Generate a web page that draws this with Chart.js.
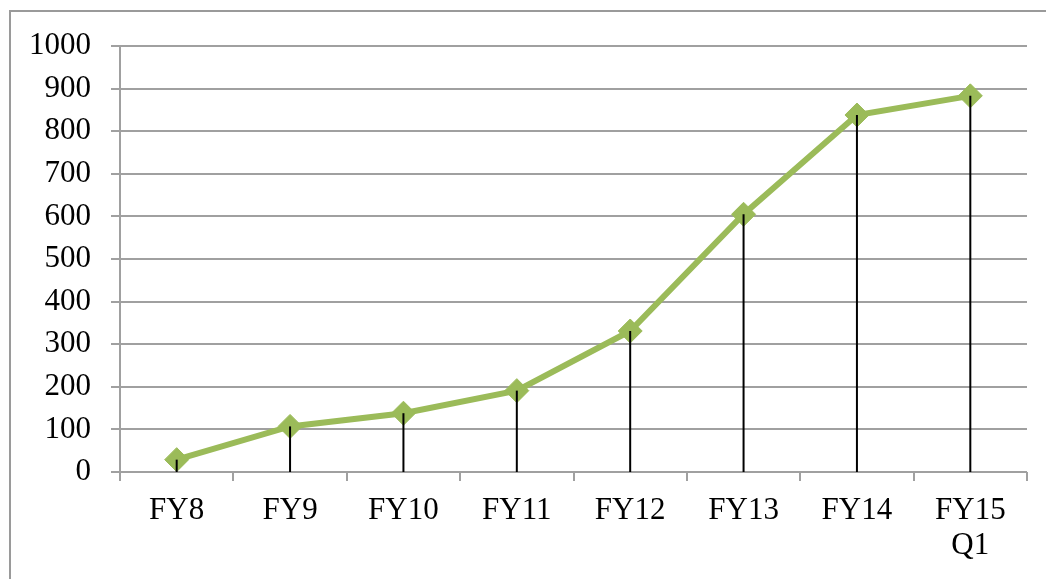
<!DOCTYPE html>
<html>
<head>
<meta charset="utf-8">
<script src="https://cdn.jsdelivr.net/npm/chart.js@4"></script>
<style>
  html, body { margin: 0; padding: 0; background: #fff; overflow: hidden; }
  #frame { position: absolute; left: 9px; top: 10px; width: 1100px; height: 700px; border: 2px solid #9a9a9a; }
  #wrap { position: absolute; left: 0; top: 0; width: 1046px; height: 579px; }
</style>
</head>
<body>
<div id="frame"></div>
<div id="wrap"><canvas id="myChart" width="1046" height="579"></canvas></div>
<script>
// data
var labels = ['FY8', 'FY9', 'FY10', 'FY11', 'FY12', 'FY13', 'FY14', ['FY15', 'Q1']];
var values = [29, 107, 138, 191, 331, 605, 838, 883];
var yTicks = [0, 100, 200, 300, 400, 500, 600, 700, 800, 900, 1000];

// black drop lines from each point to the x axis
var dropLines = {
  id: 'dropLines',
  afterDatasetsDraw: function(chart) {
    var ctx = chart.ctx;
    var meta = chart.getDatasetMeta(0);
    var bottom = chart.scales.y.getPixelForValue(0);
    ctx.save();
    ctx.strokeStyle = '#000';
    ctx.lineWidth = 2;
    meta.data.forEach(function(pt) {
      ctx.beginPath();
      ctx.moveTo(pt.x, pt.y);
      ctx.lineTo(pt.x, bottom);
      ctx.stroke();
    });
    ctx.restore();
  }
};

var serif = "'Liberation Serif', 'Times New Roman', serif";

var ctx = document.getElementById('myChart').getContext('2d');
var myChart = new Chart(ctx, {
  type: 'line',
  data: {
    labels: labels,
    datasets: [{
      data: values,
      borderColor: '#9bbb59',
      backgroundColor: '#9bbb59',
      borderWidth: 6,
      pointStyle: 'rectRot',
      pointRadius: 12,
      pointBorderWidth: 1,
      tension: 0
    }]
  },
  options: {
    responsive: false,
    animation: false,
    layout: { padding: { top: 46, right: 19, left: 0, bottom: 0 } },
    plugins: { legend: { display: false }, tooltip: { enabled: false } },
    scales: {
      x: {
        offset: true,
        grid: { offset: true, drawOnChartArea: false, drawTicks: true, tickLength: 9, color: '#a0a0a0', lineWidth: 2 },
        border: { display: false },
        ticks: { color: '#000', padding: 12, maxRotation: 0, font: { family: serif, size: 31, lineHeight: 1.13 } },
        afterFit: function(scale) { scale.height = 579 - 472; }
      },
      y: {
        min: 0,
        max: 1000,
        afterBuildTicks: function(scale) { scale.ticks = yTicks.map(function(v) { return { value: v }; }); },
        grid: { color: '#a0a0a0', lineWidth: 2, tickLength: 9 },
        border: { color: '#a0a0a0', width: 2 },
        ticks: {
          color: '#000',
          padding: 20,
          font: { family: serif, size: 31 },
          callback: function(v) { return String(v); }
        },
        afterFit: function(scale) { scale.width = 120; }
      }
    }
  },
  plugins: [dropLines]
});
</script>
</body>
</html>
